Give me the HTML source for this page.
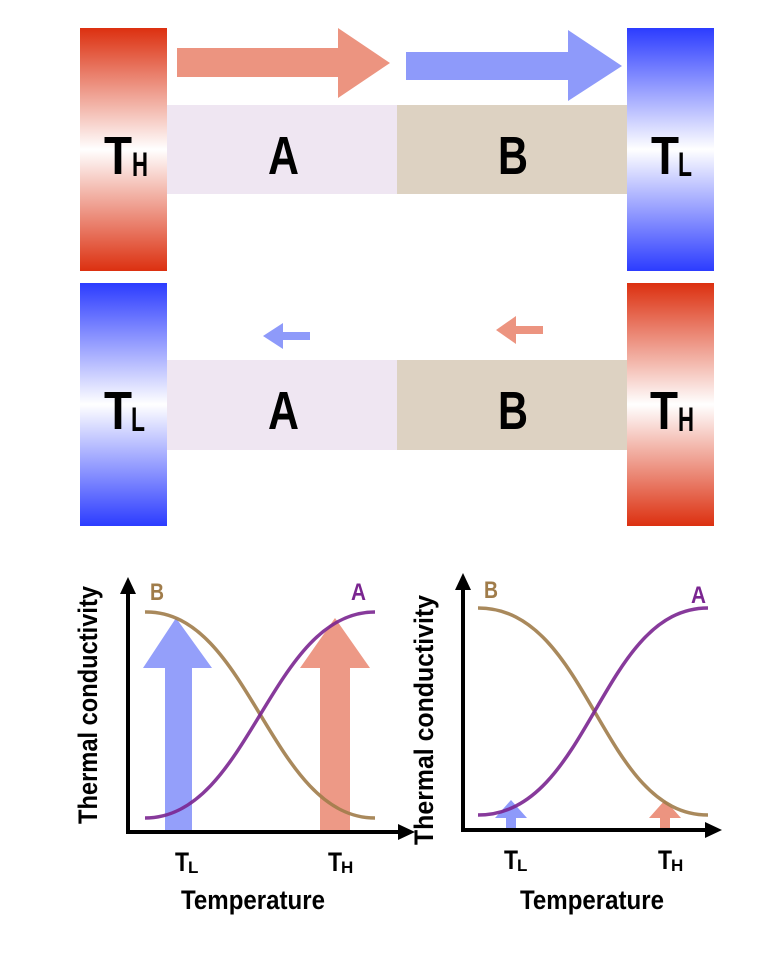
<!DOCTYPE html>
<html><head><meta charset="utf-8"><style>
html,body{margin:0;padding:0;background:#fff;}
svg{display:block;}
text{font-family:"Liberation Sans Narrow","Liberation Sans",sans-serif;font-weight:bold;}
</style></head><body>
<svg width="768" height="965" viewBox="0 0 768 965" xmlns="http://www.w3.org/2000/svg">
<defs>
<linearGradient id="red" x1="0" y1="0" x2="0" y2="1">
<stop offset="0" stop-color="#dc3010"/><stop offset="0.5" stop-color="#ffffff"/><stop offset="1" stop-color="#dc3010"/></linearGradient>
<linearGradient id="blue" x1="0" y1="0" x2="0" y2="1">
<stop offset="0" stop-color="#2c3cff"/><stop offset="0.5" stop-color="#ffffff"/><stop offset="1" stop-color="#2c3cff"/></linearGradient>
</defs>
<!-- Row 1 -->
<rect x="80" y="28" width="87" height="243" fill="url(#red)"/>
<rect x="627" y="28" width="87" height="243" fill="url(#blue)"/>
<rect x="167" y="105" width="230" height="89" fill="#efe6f2"/>
<rect x="397" y="105" width="230" height="89" fill="#ddd2c2"/>
<polygon points="177,48 338,48 338,28 390,63 338,98 338,77 177,77" fill="#ec9480"/>
<polygon points="406,52 568,52 568,30 622,66 568,101 568,80 406,80" fill="#8e9afa"/>
<text x="104" y="174" font-size="54" textLength="28" lengthAdjust="spacingAndGlyphs">T</text>
<text x="132" y="176" font-size="34" textLength="16" lengthAdjust="spacingAndGlyphs">H</text>
<text x="268" y="174" font-size="54" textLength="31" lengthAdjust="spacingAndGlyphs">A</text>
<text x="498" y="174" font-size="54" textLength="30" lengthAdjust="spacingAndGlyphs">B</text>
<text x="651" y="174" font-size="54" textLength="28" lengthAdjust="spacingAndGlyphs">T</text>
<text x="678" y="176" font-size="34" textLength="14" lengthAdjust="spacingAndGlyphs">L</text>
<!-- Row 2 -->
<rect x="80" y="283" width="87" height="243" fill="url(#blue)"/>
<rect x="627" y="283" width="87" height="243" fill="url(#red)"/>
<rect x="167" y="360" width="230" height="90" fill="#efe6f2"/>
<rect x="397" y="360" width="230" height="90" fill="#ddd2c2"/>
<polygon points="310,332 283,332 283,323 263,336 283,349 283,340 310,340" fill="#8e9afa"/>
<polygon points="543,326 516,326 516,316 496,330 516,344 516,334 543,334" fill="#ec9480"/>
<text x="104" y="429" font-size="54" textLength="28" lengthAdjust="spacingAndGlyphs">T</text>
<text x="131" y="431" font-size="34" textLength="14" lengthAdjust="spacingAndGlyphs">L</text>
<text x="268" y="429" font-size="54" textLength="31" lengthAdjust="spacingAndGlyphs">A</text>
<text x="498" y="429" font-size="54" textLength="30" lengthAdjust="spacingAndGlyphs">B</text>
<text x="650" y="429" font-size="54" textLength="28" lengthAdjust="spacingAndGlyphs">T</text>
<text x="678" y="431" font-size="34" textLength="16" lengthAdjust="spacingAndGlyphs">H</text>
<!-- Graph 1 -->
<polygon points="165,832 192,832 192,668 212,668 176,618 143,668 165,668" fill="#8e9afa" opacity="0.95"/>
<polygon points="320,832 350,832 350,668 370,668 335,618 300,668 320,668" fill="#ec9480" opacity="0.95"/>
<path d="M145,612 C250,610 270,818 375,818" fill="none" stroke="#a07c4a" stroke-width="3.5" opacity="0.9"/>
<path d="M145,818 C250,818 270,612 375,612" fill="none" stroke="#7a2590" stroke-width="3.5" opacity="0.9"/>
<path d="M128,834 V585 M128,832 H405" fill="none" stroke="#000" stroke-width="4"/>
<polygon points="128,577 120,594 136,594" fill="#000"/>
<polygon points="415,832 398,824 398,840" fill="#000"/>
<text x="150" y="600" font-size="24" fill="#a07c4a" textLength="14" lengthAdjust="spacingAndGlyphs">B</text>
<text x="351" y="600" font-size="24" fill="#7a2590" textLength="15" lengthAdjust="spacingAndGlyphs">A</text>
<text x="175" y="871" font-size="27" textLength="14" lengthAdjust="spacingAndGlyphs">T</text><text x="188" y="873" font-size="17">L</text>
<text x="328" y="871" font-size="27" textLength="14" lengthAdjust="spacingAndGlyphs">T</text><text x="341" y="873" font-size="17">H</text>
<text x="253" y="909" font-size="27" text-anchor="middle" textLength="144" lengthAdjust="spacingAndGlyphs">Temperature</text>
<text transform="translate(97,705) rotate(-90)" font-size="27" text-anchor="middle" textLength="238" lengthAdjust="spacingAndGlyphs">Thermal conductivity</text>
<!-- Graph 2 -->
<polygon points="506,830 516,830 516,818 527,818 511,800 495,818 506,818" fill="#8e9afa"/>
<polygon points="660,830 670,830 670,818 681,818 665,800 649,818 660,818" fill="#ec9480"/>
<path d="M478,608 C590,608 600,815 708,815" fill="none" stroke="#a07c4a" stroke-width="3.5" opacity="0.9"/>
<path d="M478,815 C590,815 600,608 708,608" fill="none" stroke="#7a2590" stroke-width="3.5" opacity="0.9"/>
<path d="M463,832 V582 M463,830 H712" fill="none" stroke="#000" stroke-width="4"/>
<polygon points="463,573 455,590 471,590" fill="#000"/>
<polygon points="722,830 705,822 705,838" fill="#000"/>
<text x="484" y="598" font-size="24" fill="#a07c4a" textLength="14" lengthAdjust="spacingAndGlyphs">B</text>
<text x="691" y="603" font-size="24" fill="#7a2590" textLength="15" lengthAdjust="spacingAndGlyphs">A</text>
<text x="504" y="869" font-size="27" textLength="14" lengthAdjust="spacingAndGlyphs">T</text><text x="517" y="871" font-size="17">L</text>
<text x="658" y="869" font-size="27" textLength="14" lengthAdjust="spacingAndGlyphs">T</text><text x="671" y="871" font-size="17">H</text>
<text x="592" y="909" font-size="27" text-anchor="middle" textLength="144" lengthAdjust="spacingAndGlyphs">Temperature</text>
<text transform="translate(433,720) rotate(-90)" font-size="27" text-anchor="middle" textLength="250" lengthAdjust="spacingAndGlyphs">Thermal conductivity</text>
</svg>
</body></html>
